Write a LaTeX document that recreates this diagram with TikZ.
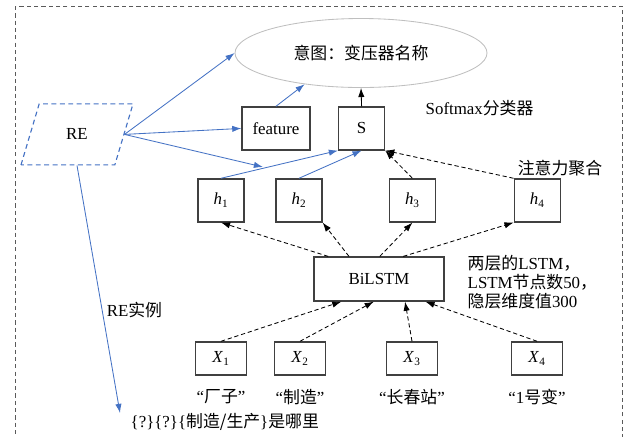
\documentclass[tikz,border=0pt]{standalone}
\usepackage{fontspec}
\setmainfont{Liberation Serif}
\newfontfamily\cjk{Noto Sans CJK SC}
\usetikzlibrary{shapes.geometric, arrows.meta, positioning, calc}
\definecolor{azulre}{HTML}{4472C4}
\definecolor{grisborde}{HTML}{404040}
\definecolor{grisclaro}{HTML}{BFBFBF}
\definecolor{grismarco}{HTML}{5A5A5A}
\newcommand{\subi}[2]{\textit{#1}\textsubscript{#2}}
\tikzset{
  caja/.style={rectangle, draw=grisborde, line width=0.9pt, minimum width=1.15cm, minimum height=1.075cm,
               inner sep=2pt, text centered, font=\fontsize{12}{14}\selectfont},
  cajax/.style={caja, minimum width=1.275cm, minimum height=0.825cm},
  cajalstm/.style={caja, minimum width=3.25cm, minimum height=1.1cm},
  intencion/.style={ellipse, draw=grisclaro, line width=0.6pt, minimum width=6.3cm, minimum height=1.725cm,
                    font=\fontsize{12}{14}\selectfont},
  rebox/.style={trapezium, trapezium left angle=70, trapezium right angle=110, trapezium stretches=true,
                draw=azulre, line width=0.8pt, dash pattern=on 3.5pt off 2.5pt,
                minimum width=2.8cm, minimum height=1.525cm, font=\fontsize{12}{14}\selectfont},
  etiqueta/.style={font=\fontsize{12}{13.5}\selectfont, inner sep=1pt, text=black},
  flechaazul/.style={-{Latex[length=6.5pt,width=4.5pt]}, color=azulre, line width=0.6pt},
  flechaneg/.style={-{Latex[length=6.5pt,width=4.5pt]}, color=black, line width=0.6pt, dash pattern=on 3pt off 2pt},
  flechasol/.style={-{Latex[length=6.5pt,width=4.5pt]}, color=black, line width=0.6pt},
  marco/.style={draw=grismarco, line width=0.7pt, dash pattern=on 3pt off 2.2pt}
}
\begin{document}
\begin{tikzpicture}
  \useasboundingbox (0,0) rectangle (15.6,-10.9);
  \draw [marco] (0.375,-0.15) rectangle (15.55,-11.4);

  \node (intencion) [intencion] at (9.025,-1.325) {{\cjk 意图：变压器名称}};
  \node (re) [rebox] at (1.925,-3.36) {RE};
  \node (feature) [caja, minimum width=1.7cm] at (6.9,-3.21) {feature};
  \node (s) [caja] at (9.04,-3.21) {S};
  \node (softmax) [etiqueta, anchor=west] at (10.6,-2.7) {Softmax{\cjk 分类器}};

  \node (h1) [caja] at (5.525,-5.01) {\subi{h}{1}};
  \node (h2) [caja] at (7.475,-5.01) {\subi{h}{2}};
  \node (h3) [caja] at (10.31,-5.01) {\subi{h}{3}};
  \node (h4) [caja] at (13.43,-5.01) {\subi{h}{4}};
  \node (atencion) [etiqueta] at (14.0,-4.2) {{\cjk 注意力聚合}};

  \node (bilstm) [cajalstm] at (9.475,-6.975) {BiLSTM};
  \node (nota) [etiqueta, anchor=west, align=left] at (11.65,-7.05)
    {{\cjk 两层的}LSTM{\cjk ，}\\LSTM{\cjk 节点数}50{\cjk ，}\\{\cjk 隐层维度值}300};

  \node (x1) [cajax] at (5.525,-8.96) {\subi{X}{1}};
  \node (x2) [cajax] at (7.5,-8.96) {\subi{X}{2}};
  \node (x3) [cajax] at (10.3,-8.96) {\subi{X}{3}};
  \node (x4) [cajax] at (13.425,-8.96) {\subi{X}{4}};
  \node (w1) [etiqueta, below=0.3cm of x1] {“{\cjk 厂子}”};
  \node (w2) [etiqueta, below=0.3cm of x2] {“{\cjk 制造}”};
  \node (w3) [etiqueta, below=0.3cm of x3] {“{\cjk 长春站}”};
  \node (w4) [etiqueta, below=0.3cm of x4] {“1{\cjk 号变}”};

  \node (consulta) [etiqueta, anchor=west] at (3.225,-10.55) {\{?\}\{?\}\{{\cjk 制造/生产}\}{\cjk 是哪里}};

  \coordinate (haciah) at (6.575,-4.175);
  \coordinate (finre) at (3.0,-10.325);

  \draw [flechaazul] (re.east) -- (intencion.west);
  \draw [flechaazul] (re.east) -- (feature.west);
  \draw [flechaazul] (re.east) -- (haciah);
  \draw [flechaazul] (re.south) -- (finre) node[etiqueta, pos=0.585, right=2pt] {RE{\cjk 实例}};
  \draw [flechaazul] (feature.north) -- (intencion.209);
  \draw [flechasol] (s.north) -- (intencion.south);

  \draw [flechaazul] (h1.north) -- (s.south west);
  \draw [flechaazul] (h2.north) -- (s.south);
  \draw [flechaneg] (h3.north) -- (s.south east);
  \draw [flechaneg] (h4.north west) -- (s.south east);

  \draw [flechaneg] (bilstm.156) -- (h1.south);
  \draw [flechaneg] (bilstm.143) -- (h2.south east);
  \draw [flechaneg] (bilstm.88) -- (h3.south);
  \draw [flechaneg] (bilstm.43) -- (h4.south west);

  \draw [flechaneg] (x1.north) -- (bilstm.211);
  \draw [flechaneg] (x2.north) -- (bilstm.257);
  \draw [flechaneg] (x3.north) -- (bilstm.319);
  \draw [flechaneg] (x4.north) -- (bilstm.334);
\end{tikzpicture}
\end{document}
